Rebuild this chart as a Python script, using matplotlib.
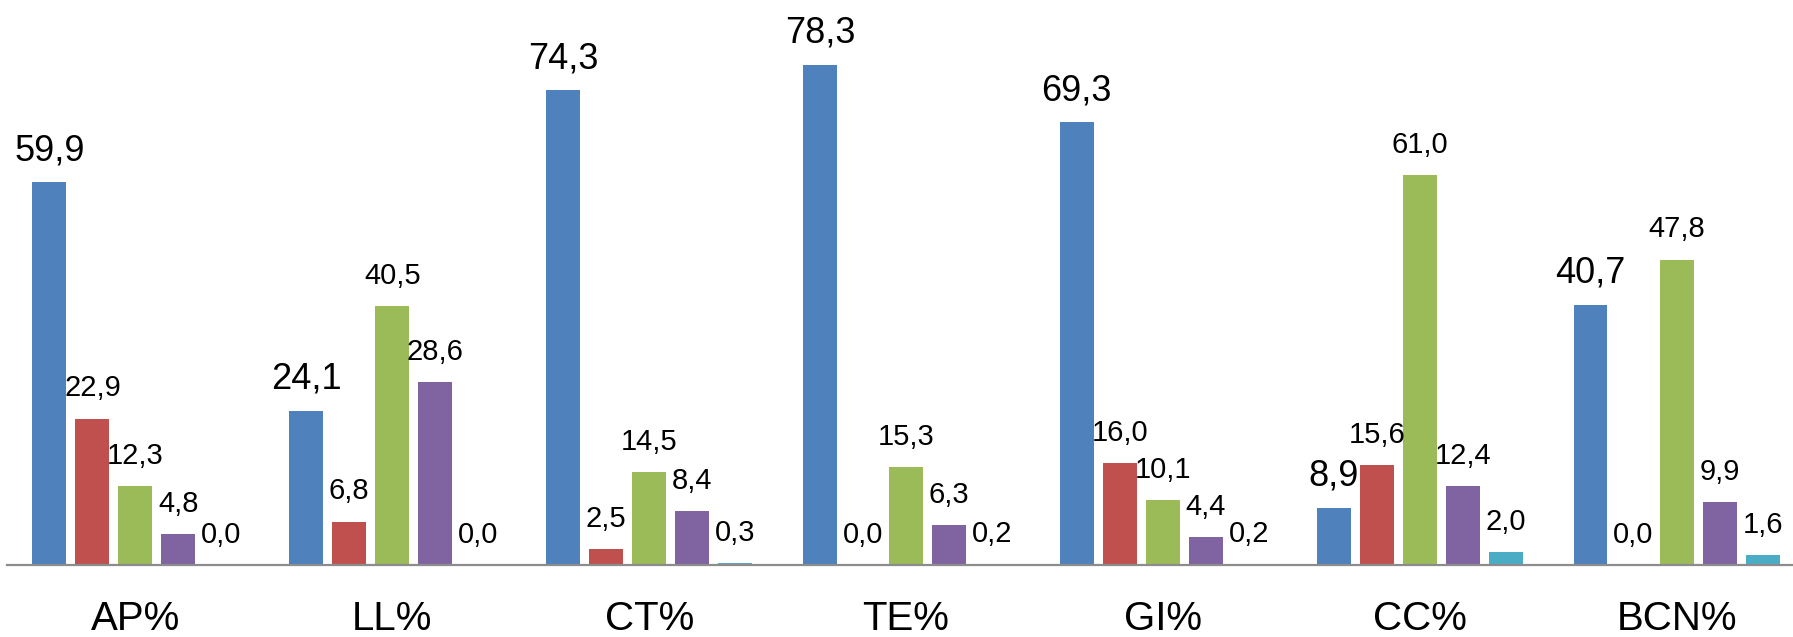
import numpy as np
import matplotlib
matplotlib.use('Agg')
import matplotlib.pyplot as plt

plt.rcParams['font.family'] = ['Liberation Sans', 'DejaVu Sans']

# categories et séries
categories = ['AP%', 'LL%', 'CT%', 'TE%', 'GI%', 'CC%', 'BCN%']
serie_1 = [59.9, 24.1, 74.3, 78.3, 69.3, 8.9, 40.7]
serie_2 = [22.9, 6.8, 2.5, 0.0, 16.0, 15.6, 0.0]
serie_3 = [12.3, 40.5, 14.5, 15.3, 10.1, 61.0, 47.8]
serie_4 = [4.8, 28.6, 8.4, 6.3, 4.4, 12.4, 9.9]
serie_5 = [0.0, 0.0, 0.3, 0.2, 0.2, 2.0, 1.6]

series = [serie_1, serie_2, serie_3, serie_4, serie_5]
couleurs = ['#4F81BD', '#C0504D', '#9BBB59', '#8064A2', '#4BACC6']
tailles = [26, 21, 21, 21, 21]


def creer_graphe():
    fig = plt.figure(figsize=(17.93, 6.37), dpi=100)
    # l'axe déborde un peu à droite
    ax = fig.add_axes([7 / 1793, 72 / 637, 1798 / 1793, 543 / 637])

    x = np.arange(len(categories))
    pas = 0.1675
    largeur = 0.132
    for j, (valeurs, couleur, taille) in enumerate(zip(series, couleurs, tailles)):
        pos = x + (j - 2) * pas
        barres = ax.bar(pos, valeurs, width=largeur, color=couleur)
        for b, v in zip(barres, valeurs):
            ax.annotate(f'{v:.1f}'.replace('.', ','),
                        (b.get_x() + b.get_width() / 2, b.get_height()),
                        xytext=(0, 16), textcoords='offset points',
                        ha='center', va='baseline', fontsize=taille)

    ax.set_xlim(-0.5, len(categories) - 0.5)
    ax.set_ylim(0, 85)
    ax.set_xticks(x)
    ax.set_xticklabels(categories, fontsize=29)
    ax.tick_params(axis='x', length=0, pad=25)
    ax.set_yticks([])
    for cote in ['top', 'right', 'left']:
        ax.spines[cote].set_visible(False)
    ax.spines['bottom'].set_color('#8C8C8C')
    ax.spines['bottom'].set_linewidth(1.6)

    fig.savefig('out.png', dpi=100)


if __name__ == '__main__':
    creer_graphe()
